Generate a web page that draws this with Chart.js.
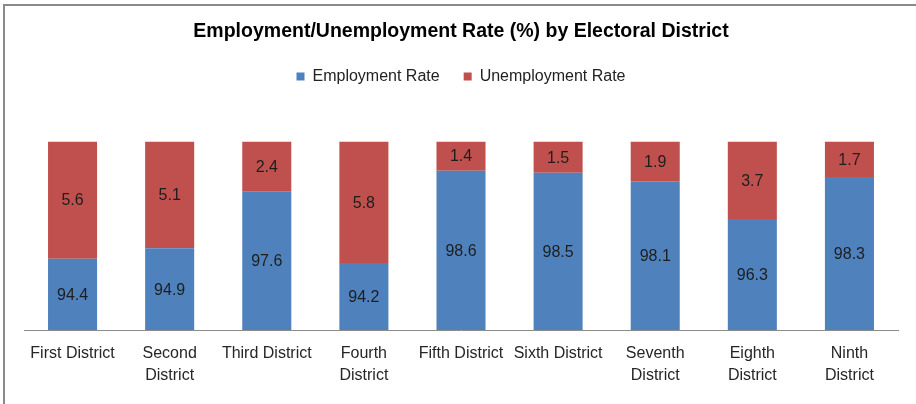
<!DOCTYPE html>
<html>
<head>
<meta charset="utf-8">
<title>Employment/Unemployment Rate by Electoral District</title>
<script src="https://cdn.jsdelivr.net/npm/chart.js@4.4.1/dist/chart.umd.min.js"></script>
<style>
    html, body { margin: 0; padding: 0; background: #fff; }
    .frame {
        position: relative;
        width: 916px;
        height: 404px;
        box-sizing: border-box;
    }
    .frame::before {
        content: '';
        position: absolute;
        left: 3px; top: 4px; right: 0; bottom: 0;
        border-top: 2px solid #8a8a8a;
        border-left: 2px solid #8a8a8a;
        pointer-events: none;
    }
    canvas { display: block; }
</style>
</head>
<body>
<div class="frame">
    <canvas id="rateChart" width="916" height="404"></canvas>
</div>
<script>
    const districts = [
        'First District',
        ['Second', 'District'],
        'Third District',
        ['Fourth', 'District'],
        'Fifth District',
        'Sixth District',
        ['Seventh', 'District'],
        ['Eighth', 'District'],
        ['Ninth', 'District'],
    ];
    const employmentRate   = [94.4, 94.9, 97.6, 94.2, 98.6, 98.5, 98.1, 96.3, 98.3];
    const unemploymentRate = [5.6, 5.1, 2.4, 5.8, 1.4, 1.5, 1.9, 3.7, 1.7];

    const FONT = '"Liberation Sans", Arial, sans-serif';

    // value labels centred inside each stacked segment
    const segmentLabels = {
        id: 'segmentLabels',
        afterDatasetsDraw(chart) {
            const ctx = chart.ctx;
            const area = chart.chartArea;
            ctx.save();
            ctx.font = '16px ' + FONT;
            ctx.fillStyle = '#1e1e1e';
            ctx.textAlign = 'center';
            ctx.textBaseline = 'middle';
            chart.data.datasets.forEach((ds, i) => {
                const meta = chart.getDatasetMeta(i);
                meta.data.forEach((bar, j) => {
                    const top = Math.max(Math.min(bar.y, bar.base), area.top);
                    const bottom = Math.min(Math.max(bar.y, bar.base), area.bottom);
                    ctx.fillText(ds.data[j].toFixed(1), bar.x, (top + bottom) / 2 + 1);
                });
            });
            ctx.restore();
        }
    };

    // extra gap between the legend and the bars
    const legendGap = {
        id: 'legendGap',
        beforeInit(chart) {
            const fit = chart.legend.fit;
            chart.legend.fit = function () {
                fit.bind(chart.legend)();
                this.height += 47;
            };
        }
    };

    new Chart(document.getElementById('rateChart'), {
        type: 'bar',
        data: {
            labels: districts,
            datasets: [{
                label: 'Employment Rate',
                data: employmentRate,
                backgroundColor: '#4F81BD',
                barPercentage: 0.505,
                categoryPercentage: 1,
                clip: 0,
            }, {
                label: 'Unemployment Rate',
                data: unemploymentRate,
                backgroundColor: '#C0504D',
                barPercentage: 0.505,
                categoryPercentage: 1,
                clip: 0,
            }],
        },
        options: {
            responsive: false,
            animation: false,
            layout: { padding: { left: 24, right: 18, top: 0, bottom: 4 } },
            plugins: {
                title: {
                    display: true,
                    text: 'Employment/Unemployment Rate (%) by Electoral District',
                    color: '#000',
                    font: { family: FONT, size: 19.5, weight: 'bold' },
                    padding: { top: 20, bottom: 1 },
                },
                legend: {
                    position: 'top',
                    labels: {
                        color: '#222',
                        font: { family: FONT, size: 16 },
                        boxWidth: 8,
                        boxHeight: 8,
                        padding: 24,
                    },
                },
                tooltip: { enabled: false },
            },
            scales: {
                x: {
                    stacked: true,
                    grid: { display: false, drawTicks: false },
                    border: { display: true, color: '#8c8c8c', width: 1 },
                    ticks: {
                        color: '#262626',
                        font: { family: FONT, size: 16, lineHeight: 1.375 },
                        padding: 13,
                        maxRotation: 0,
                        autoSkip: false,
                    },
                },
                y: {
                    stacked: true,
                    display: false,
                    min: 91,
                    max: 100,
                },
            },
        },
        plugins: [segmentLabels, legendGap],
    });
</script>
</body>
</html>
